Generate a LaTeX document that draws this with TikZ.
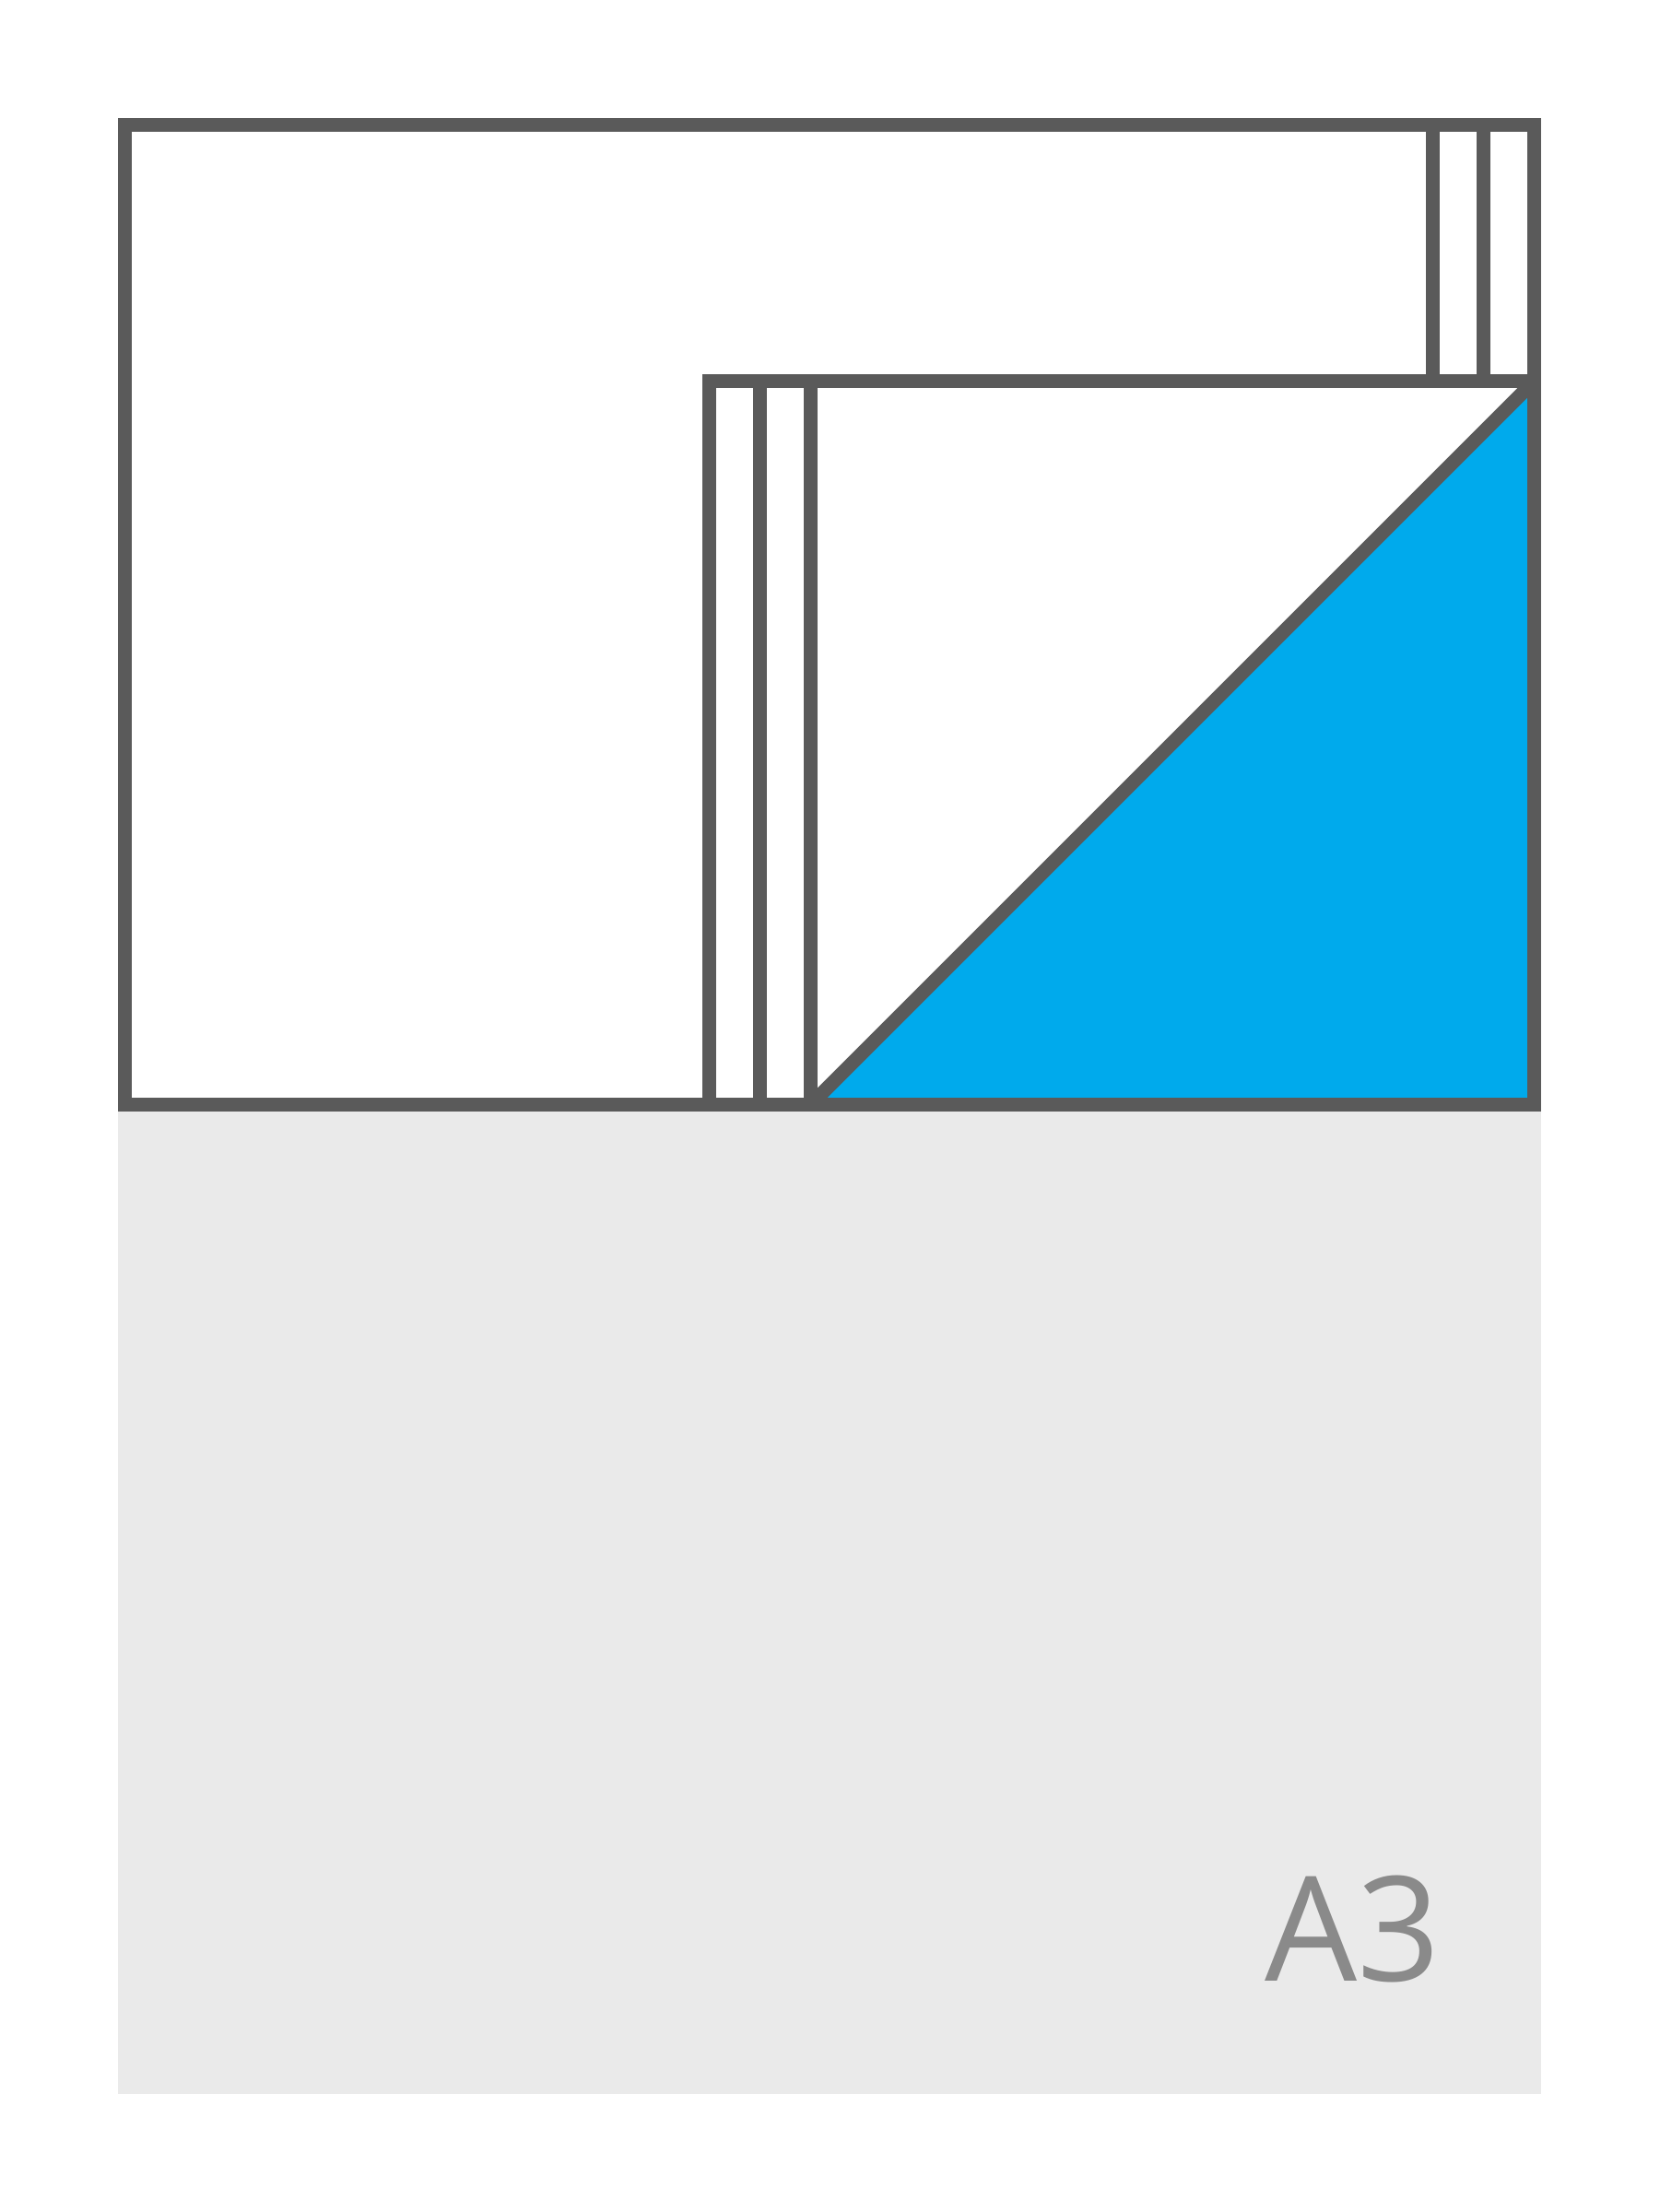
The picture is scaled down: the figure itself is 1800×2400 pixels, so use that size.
\documentclass[tikz,border=0pt]{standalone}
\usepackage{fontspec}
\setmainfont{Open Sans}
\usetikzlibrary{positioning}
\definecolor{shline}{HTML}{5A5A5A}
\definecolor{shblue}{HTML}{00AAEC}
\definecolor{shpaper}{HTML}{EAEAEA}
\definecolor{shtext}{HTML}{8A8A8A}

\begin{document}
\begin{tikzpicture}[
  x=0.1mm, y=-0.1mm,
  edge/.style={draw=shline, line width=0.15cm},
  sheet/.style={fill=shpaper, draw=none},
  fold/.style={fill=shblue, draw=none},
  label/.style={font=\fontsize{45}{54}\selectfont, text=shtext, inner sep=0pt},
]

\useasboundingbox (0,0) rectangle (1800,2400);

% Lower half of the sheet
\fill[sheet] (128,1198) rectangle (1672,2272);

% Folded corner
\fill[fold] (879.5,1198.5) -- (1664.5,1198.5) -- (1664.5,413.5) -- cycle;

% Outer fold
\draw[edge] (135.5,135.5) rectangle (1664.5,1198.5);
\draw[edge] (1554.5,135.5) -- (1554.5,413.5);
\draw[edge] (1609.5,135.5) -- (1609.5,413.5);

% Inner fold
\draw[edge] (769.5,1198.5) -- (769.5,413.5) -- (1664.5,413.5);
\draw[edge] (824.5,413.5) -- (824.5,1198.5);
\draw[edge] (879.5,413.5) -- (879.5,1198.5);
\draw[edge] (879.5,1198.5) -- (1664.5,413.5);

% Size label
\node[label, anchor=base west] (size) at (1372,2149) {A3};

\end{tikzpicture}
\end{document}
